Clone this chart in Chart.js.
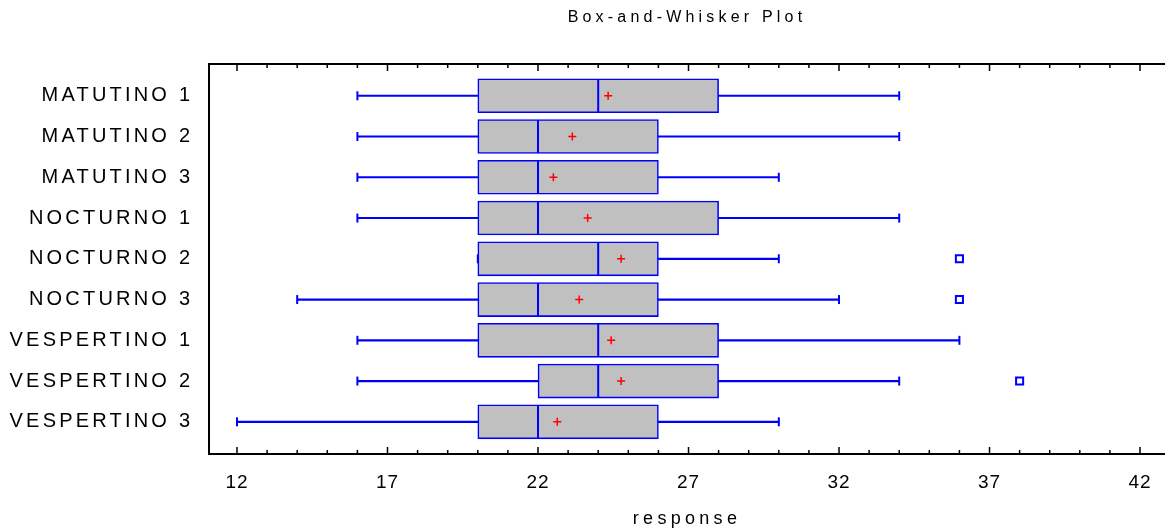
<!DOCTYPE html>
<html>
<head>
<meta charset="utf-8">
<script src="https://cdn.jsdelivr.net/npm/chart.js@4.4.1/dist/chart.umd.min.js"></script>
<style>
  html, body { margin: 0; padding: 0; background: #fff; overflow: hidden; }
  canvas { display: block; }
</style>
</head>
<body>
<canvas id="chart_box" width="1165" height="531"></canvas>
<script>
// groups, top to bottom
const categories = ['MATUTINO 1', 'MATUTINO 2', 'MATUTINO 3', 'NOCTURNO 1', 'NOCTURNO 2', 'NOCTURNO 3', 'VESPERTINO 1', 'VESPERTINO 2', 'VESPERTINO 3'];
const whiskerLow = [16, 16, 16, 16, 20, 14, 16, 16, 12];
const q1 = [20, 20, 20, 20, 20, 20, 20, 22, 20];
const median = [24, 22, 22, 22, 24, 22, 24, 24, 22];
const q3 = [28, 26, 26, 28, 26, 26, 28, 28, 26];
const whiskerHigh = [34, 34, 30, 34, 30, 32, 36, 34, 30];
const means = [24.33, 23.14, 22.51, 23.65, 24.76, 23.37, 24.43, 24.76, 22.64];
const outliers = [[], [], [], [], [36], [36], [], [38], []];
const tickLabels = [12, 17, 22, 27, 32, 37, 42];

const BLUE = '#0000ff';
const FONT = "'Liberation Sans', Arial, sans-serif";

// canvas letterSpacing around some of a box's draw methods
const spaced = (box, methods) => {
    if (!box || box._spaced) return;
    Object.entries(methods).forEach(([name, px]) => {
        const fn = box[name].bind(box);
        box[name] = (...args) => {
            const c = box.ctx;
            c.save();
            c.letterSpacing = px;
            fn(...args);
            c.restore();
        };
    });
    box._spaced = true;
};

const spacing = {
    id: 'spacing',
    beforeDraw(chart) {
        spaced(chart.titleBlock, {draw: '4.2px'});
        spaced(chart.scales.y, {drawLabels: '3.2px'});
        spaced(chart.scales.x, {drawLabels: '1px', drawTitle: '4.3px'});
    }
};

// top frame line and inward tick marks on top and bottom
const frameTicks = {
    id: 'frameTicks',
    afterDatasetsDraw(chart) {
        const {ctx, chartArea: a, scales: {x}} = chart;
        ctx.save();
        ctx.strokeStyle = '#000';
        ctx.lineWidth = 2;
        ctx.beginPath();
        ctx.moveTo(a.left, a.top);
        ctx.lineTo(a.right, a.top);
        ctx.stroke();
        ctx.lineWidth = 1.5;
        ctx.beginPath();
        for (let v = Math.ceil(x.min); v <= x.max; v++) {
            const px = x.getPixelForValue(v);
            const len = tickLabels.includes(v) ? 7 : 4;
            ctx.moveTo(px, a.top);
            ctx.lineTo(px, a.top + len);
            ctx.moveTo(px, a.bottom);
            ctx.lineTo(px, a.bottom - len);
        }
        ctx.stroke();
        ctx.restore();
    }
};

const rows = categories.map((c, i) => i);

new Chart(document.getElementById('chart_box').getContext('2d'), {
    type: 'bar',
    data: {
        datasets: [
            {
                // whiskers
                type: 'bar',
                indexAxis: 'y',
                data: rows.map(i => ({x: [whiskerLow[i], whiskerHigh[i]], y: i})),
                backgroundColor: BLUE,
                barThickness: 1.5,
                grouped: false,
                order: 4
            },
            {
                // boxes
                type: 'bar',
                indexAxis: 'y',
                data: rows.map(i => ({x: [q1[i], q3[i]], y: i})),
                backgroundColor: '#c0c0c0',
                borderColor: BLUE,
                borderWidth: 1.6,
                borderSkipped: false,
                barThickness: 34,
                grouped: false,
                order: 3
            },
            {
                // whisker caps
                type: 'scatter',
                data: rows.flatMap(i => [{x: whiskerLow[i], y: i}, {x: whiskerHigh[i], y: i}]),
                pointStyle: 'line',
                pointRotation: 90,
                pointRadius: 4.5,
                pointBorderColor: BLUE,
                pointBorderWidth: 2,
                order: 2
            },
            {
                // medians
                type: 'scatter',
                data: rows.map(i => ({x: median[i], y: i})),
                pointStyle: 'line',
                pointRotation: 90,
                pointRadius: 16.5,
                pointBorderColor: BLUE,
                pointBorderWidth: 2,
                order: 2
            },
            {
                // means
                type: 'scatter',
                data: rows.map(i => ({x: means[i], y: i})),
                pointStyle: 'cross',
                pointRadius: 4,
                pointBorderColor: '#ff0000',
                pointBorderWidth: 1.5,
                order: 1
            },
            {
                // outside points
                type: 'scatter',
                data: rows.flatMap(i => outliers[i].map(v => ({x: v, y: i}))),
                pointStyle: 'rect',
                pointRadius: 5,
                pointBackgroundColor: '#fff',
                pointBorderColor: BLUE,
                pointBorderWidth: 2,
                order: 1
            }
        ]
    },
    options: {
        responsive: false,
        animation: false,
        events: [],
        layout: {padding: 0, autoPadding: false},
        plugins: {
            legend: {display: false},
            tooltip: {enabled: false},
            title: {
                display: true,
                text: 'Box-and-Whisker Plot',
                fullSize: false,
                color: '#000',
                font: {family: FONT, size: 16, weight: 'normal'},
                padding: {top: 8, bottom: 36.8}
            }
        },
        scales: {
            x: {
                type: 'linear',
                offset: false,
                min: 11.07,
                max: 42.83,
                afterBuildTicks: (scale) => {
                    scale.ticks = tickLabels.map(v => ({value: v}));
                },
                afterFit: (scale) => {
                    scale.height = 77;
                    scale.paddingLeft = 0;
                    scale.paddingRight = 0;
                },
                ticks: {
                    color: '#000',
                    font: {family: FONT, size: 19},
                    padding: 17,
                    autoSkip: false,
                    maxRotation: 0
                },
                grid: {display: true, offset: false, drawOnChartArea: false, drawTicks: false},
                border: {display: true, color: '#000', width: 2},
                title: {
                    display: true,
                    text: 'response',
                    color: '#000',
                    font: {family: FONT, size: 18},
                    padding: {top: 4, bottom: 1}
                }
            },
            y: {
                type: 'linear',
                offset: false,
                reverse: true,
                min: -0.78,
                max: 8.79,
                afterBuildTicks: (scale) => {
                    scale.ticks = categories.map((c, i) => ({value: i}));
                },
                afterFit: (scale) => {
                    scale.width = 209;
                    scale.paddingTop = 0;
                    scale.paddingBottom = 0;
                },
                ticks: {
                    color: '#000',
                    font: {family: FONT, size: 20},
                    padding: 15.8,
                    autoSkip: false,
                    callback: (v) => categories[v]
                },
                grid: {display: true, offset: false, drawOnChartArea: false, drawTicks: false},
                border: {display: true, color: '#000', width: 2}
            }
        }
    },
    plugins: [spacing, frameTicks]
});
</script>
</body>
</html>
